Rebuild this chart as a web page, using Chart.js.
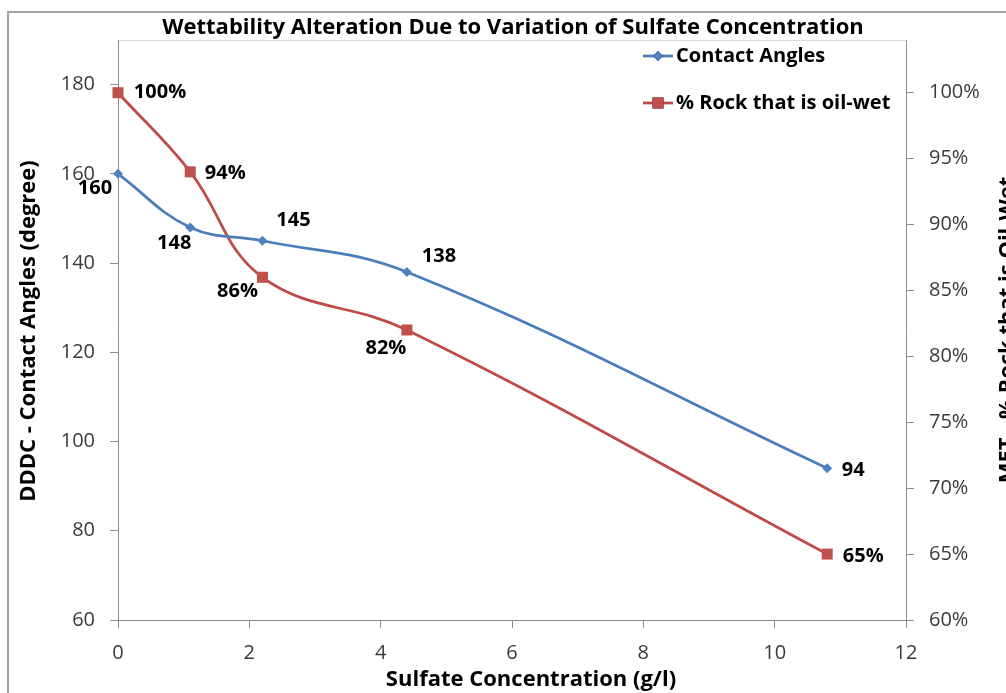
<!DOCTYPE html>
<html>
<head>
<meta charset="utf-8">
<title>Wettability Alteration</title>
<script src="https://cdn.jsdelivr.net/npm/chart.js@4.4.1/dist/chart.umd.min.js"></script>
<style>
  body { margin: 0; background: #fff; }
  #chart_box { width: 1006px; height: 693px; }
</style>
</head>
<body>
<div id="chart_box"><canvas id="MyChart" width="1006" height="693"></canvas></div>
<script>
const sulfate = [0, 1.1, 2.2, 4.4, 10.8];
const contact_angles = [160, 148, 145, 138, 94];
const oil_wet = [100, 94, 86, 82, 65];

const sulfate_ticks = [0, 2, 4, 6, 8, 10, 12];
const angle_ticks = [60, 80, 100, 120, 140, 160, 180];
const percent_ticks = [60, 65, 70, 75, 80, 85, 90, 95, 100];

// where each value label sits relative to its point (dx, dy)
const angle_label_pos = [[-23, 14], [-16, 16], [31, -20], [32, -16], [26, 2]];
const oil_label_pos = [[42, 0], [35, 1], [-25, 14], [-21, 18], [36, 2]];

const FONT = "'Open Sans', 'DejaVu Sans', sans-serif";
const axis_gray = "#8c8c8c";
const tick_color = "#3a3a3a";

function toPoints(xs, ys) {
  return xs.map((x, i) => ({ x: x, y: ys[i] }));
}

function useTicks(list) {
  return function (scale) {
    scale.ticks = list.map(v => ({ value: v }));
  };
}

function rotatedText(ctx, text, x, y, baseline) {
  ctx.save();
  ctx.translate(x, y);
  ctx.rotate(-Math.PI / 2);
  ctx.textAlign = "center";
  ctx.textBaseline = baseline;
  ctx.fillText(text, 0, 0);
  ctx.restore();
}

const frame_plugin = {
  id: "frame",
  beforeDraw(chart) {
    const ctx = chart.ctx;
    const area = chart.chartArea;
    ctx.save();
    ctx.fillStyle = "#fff";
    ctx.fillRect(0, 0, chart.width, chart.height);
    // outer chart border, runs off the right and bottom edges
    ctx.strokeStyle = "#a6a6a6";
    ctx.lineWidth = 2;
    ctx.strokeRect(8, 12, chart.width + 40, chart.height + 40);
    // plot area outline
    ctx.strokeStyle = "#d9d9d9";
    ctx.lineWidth = 1;
    ctx.strokeRect(area.left + 0.5, area.top + 0.5, area.right - area.left, area.bottom - area.top);
    ctx.restore();
  },
  afterDatasetsDraw(chart) {
    const ctx = chart.ctx;
    ctx.save();
    ctx.font = "bold 20px " + FONT;
    ctx.fillStyle = "#000";
    ctx.textAlign = "center";
    ctx.textBaseline = "middle";
    const sets = [
      { idx: 0, pos: angle_label_pos, fmt: v => String(v) },
      { idx: 1, pos: oil_label_pos, fmt: v => v + "%" },
    ];
    sets.forEach(s => {
      const meta = chart.getDatasetMeta(s.idx);
      const values = chart.data.datasets[s.idx].data;
      meta.data.forEach((pt, i) => {
        ctx.fillText(s.fmt(values[i].y), pt.x + s.pos[i][0], pt.y + s.pos[i][1]);
      });
    });
    ctx.restore();
  },
  afterDraw(chart) {
    const ctx = chart.ctx;
    ctx.save();
    ctx.fillStyle = "#000";
    ctx.font = "bold 22px " + FONT;
    ctx.textAlign = "center";
    ctx.textBaseline = "middle";
    ctx.fillText("Wettability Alteration Due to Variation of Sulfate Concentration", 513, 28);
    ctx.fillText("Sulfate Concentration (g/l)", 531, 680);
    rotatedText(ctx, "DDDC - Contact Angles (degree)", 29, 331, "middle");
    rotatedText(ctx, "MET - % Rock that is Oil-Wet", 1014, 330, "alphabetic");

    // legend, stacked in the top right corner
    const rows = [56, 103];
    chart.data.datasets.forEach((ds, i) => {
      const y = rows[i];
      ctx.strokeStyle = ds.borderColor;
      ctx.lineWidth = 2.75;
      ctx.beginPath();
      ctx.moveTo(643, y);
      ctx.lineTo(673, y);
      ctx.stroke();
      Chart.helpers.drawPoint(ctx, {
        pointStyle: ds.pointStyle,
        radius: ds.pointRadius,
        borderWidth: 0,
        rotation: 0,
      }, 658, y);
      ctx.fillStyle = ds.pointBackgroundColor;
      ctx.fill();
      ctx.fillStyle = "#000";
      ctx.font = "bold 20px " + FONT;
      ctx.textAlign = "left";
      ctx.fillText(ds.label, 676, y);
    });
    ctx.restore();
  },
};

const tick_font = { family: FONT, size: 20 };

new Chart(document.getElementById("MyChart"), {
  type: "line",
  data: {
    datasets: [
      {
        label: "Contact Angles",
        data: toPoints(sulfate, contact_angles),
        yAxisID: "y",
        borderColor: "#4A7EBB",
        borderWidth: 2.75,
        pointStyle: "rectRot",
        pointRadius: 5,
        pointBorderWidth: 0,
        pointBackgroundColor: "#4F81BD",
        tension: 0.4,
        clip: false,
      },
      {
        label: "% Rock that is oil-wet",
        data: toPoints(sulfate, oil_wet),
        yAxisID: "y1",
        borderColor: "#BE4B48",
        borderWidth: 2.75,
        pointStyle: "rect",
        pointRadius: 7.8,
        pointBorderWidth: 0,
        pointBackgroundColor: "#C0504D",
        tension: 0.4,
        clip: false,
      },
    ],
  },
  options: {
    responsive: false,
    animation: false,
    devicePixelRatio: 1,
    layout: { padding: { top: 40, left: 0, right: 0, bottom: 0 } },
    plugins: {
      legend: { display: false },
      title: { display: false },
      tooltip: { enabled: false },
    },
    scales: {
      x: {
        type: "linear",
        min: 0,
        max: 12,
        afterBuildTicks: useTicks(sulfate_ticks),
        afterFit: s => { s.height = 73; },
        grid: { drawOnChartArea: false, tickLength: 8, color: axis_gray },
        border: { color: axis_gray },
        ticks: { font: tick_font, color: tick_color, padding: 13, maxRotation: 0 },
      },
      y: {
        position: "left",
        min: 60,
        max: 190,
        afterBuildTicks: useTicks(angle_ticks),
        afterFit: s => { s.width = 118; },
        grid: { drawOnChartArea: false, tickLength: 8, color: axis_gray },
        border: { color: axis_gray },
        ticks: { font: tick_font, color: tick_color, padding: 15 },
      },
      y1: {
        position: "right",
        min: 60,
        max: 104,
        afterBuildTicks: useTicks(percent_ticks),
        afterFit: s => { s.width = 100; },
        grid: { drawOnChartArea: false, tickLength: 8, color: axis_gray },
        border: { color: axis_gray },
        ticks: { font: tick_font, color: tick_color, padding: 15, callback: v => v + "%" },
      },
    },
  },
  plugins: [frame_plugin],
});
</script>
</body>
</html>
